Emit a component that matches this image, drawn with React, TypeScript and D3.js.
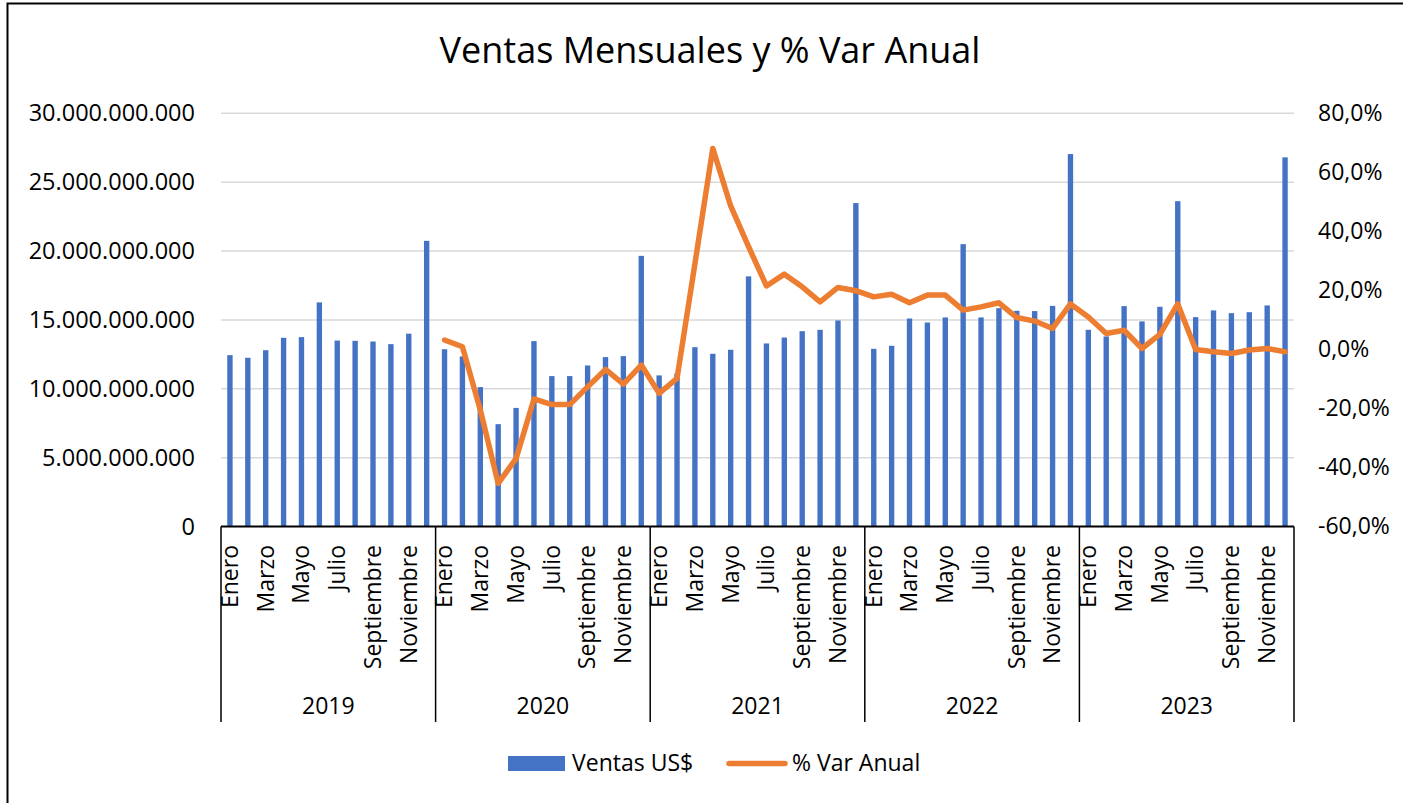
import React, { useEffect, useRef } from "react";
import * as d3 from "d3";

const years = ["2019", "2020", "2021", "2022", "2023"];
const months = [
  "Enero", "Febrero", "Marzo", "Abril", "Mayo", "Junio",
  "Julio", "Agosto", "Septiembre", "Octubre", "Noviembre", "Diciembre"
];

// Ventas US$ en miles de millones, por mes
const ventas2019 = [12.44, 12.25, 12.8, 13.7, 13.75, 16.27, 13.5, 13.48, 13.43, 13.24, 14.0, 20.74];
const ventas2020 = [12.87, 12.35, 10.12, 7.43, 8.61, 13.46, 10.92, 10.92, 11.69, 12.3, 12.37, 19.65];
const ventas2021 = [10.97, 11.1, 13.02, 12.54, 12.83, 18.16, 13.29, 13.72, 14.18, 14.28, 14.96, 23.48];
const ventas2022 = [12.9, 13.12, 15.1, 14.81, 15.18, 20.5, 15.18, 15.85, 15.66, 15.64, 16.02, 27.04];
const ventas2023 = [14.28, 13.8, 16.0, 14.89, 15.95, 23.62, 15.2, 15.69, 15.49, 15.56, 16.05, 26.8];

// % Var Anual (2019 sin dato)
const var2019 = [null, null, null, null, null, null, null, null, null, null, null, null];
const var2020 = [3.2, 0.9, -20.5, -45.4, -37, -16.8, -18.7, -18.7, -12.7, -6.8, -11.8, -5.3];
const var2021 = [-14.9, -9.8, 29, 68.1, 48.6, 34.8, 21.5, 25.5, 21.2, 16.1, 21, 19.9];
const var2022 = [17.8, 18.7, 15.8, 18.4, 18.4, 13.3, 14.4, 15.8, 10.8, 9.6, 7.1, 15.4];
const var2023 = [11.0, 5.4, 6.5, 0.3, 5.1, 15.4, 0, -0.8, -1.4, -0.2, 0.3, -0.8];

const leftTicks = [0, 5e9, 10e9, 15e9, 20e9, 25e9, 30e9];
const rightTicks = [-60, -40, -20, 0, 20, 40, 60, 80];

const ventasByYear = [ventas2019, ventas2020, ventas2021, ventas2022, ventas2023];
const varByYear = [var2019, var2020, var2021, var2022, var2023];

type Row = { key: string; year: string; month: string; mi: number; ventas: number; pct: number | null };

const rows: Row[] = years.flatMap((year, yi) =>
  months.map((month, mi) => ({
    key: `${year}-${mi}`,
    year,
    month,
    mi,
    ventas: ventasByYear[yi][mi] * 1e9,
    pct: varByYear[yi][mi]
  }))
);

const W = 1403;
const H = 803;
const BLUE = "#4472C4";
const ORANGE = "#ED7D31";
const FONT = "'Open Sans', 'Noto Sans', sans-serif";

const App = () => {
  const ref = useRef<SVGSVGElement | null>(null);

  useEffect(() => {
    const svg = d3.select(ref.current);
    svg.selectAll("*").remove();

    const left = 221, right = 1294, top = 113.3, bottom = 526.5;

    const x = d3.scaleBand<string>()
      .domain(rows.map(d => d.key))
      .range([left, right])
      .paddingInner(0.7)
      .paddingOuter(0.35);
    const step = x.step();

    const yL = d3.scaleLinear().domain([0, 30e9]).range([bottom, top]);
    const yR = d3.scaleLinear().domain([-60, 80]).range([bottom, top]);

    const loc = d3.formatLocale({
      decimal: ",", thousands: ".", grouping: [3], currency: ["", ""], minus: "-"
    });
    const fmtL = loc.format(",.0f");
    const fmtR = loc.format(".1%");

    svg.append("rect").attr("width", W).attr("height", H).attr("fill", "#fff");
    svg.append("rect")
      .attr("x", 7.5).attr("y", 3.5).attr("width", W).attr("height", H)
      .attr("fill", "none").attr("stroke", "#000").attr("stroke-width", 2);

    // title
    svg.append("text")
      .attr("x", 710).attr("y", 63)
      .attr("text-anchor", "middle")
      .style("font-size", "36px")
      .text("Ventas Mensuales y % Var Anual");

    // gridlines
    svg.append("g")
      .selectAll("line")
      .data(leftTicks.filter(t => t > 0))
      .join("line")
      .attr("x1", left).attr("x2", right)
      .attr("y1", d => yL(d)).attr("y2", d => yL(d))
      .attr("stroke", "#d9d9d9").attr("stroke-width", 1.5);

    // left axis
    const gL = svg.append("g")
      .attr("transform", `translate(${left},0)`)
      .call(d3.axisLeft(yL).tickValues(leftTicks).tickSize(0).tickPadding(26).tickFormat(d => fmtL(d as number)));
    gL.select(".domain").remove();
    gL.selectAll("text").style("font-size", "23.5px").style("font-family", FONT).attr("fill", "#000");

    // right axis
    const gR = svg.append("g")
      .attr("transform", `translate(${right},0)`)
      .call(d3.axisRight(yR).tickValues(rightTicks).tickSize(0).tickPadding(24).tickFormat(d => fmtR((d as number) / 100)));
    gR.select(".domain").remove();
    gR.selectAll("text").style("font-size", "23px").style("font-family", FONT).attr("fill", "#000");

    // bars
    svg.append("g")
      .selectAll("rect")
      .data(rows)
      .join("rect")
      .attr("x", d => x(d.key)!)
      .attr("width", x.bandwidth())
      .attr("y", d => yL(d.ventas))
      .attr("height", d => yL(0) - yL(d.ventas))
      .attr("fill", BLUE);

    // x axis line and year separators
    svg.append("line")
      .attr("x1", left).attr("x2", right)
      .attr("y1", bottom).attr("y2", bottom)
      .attr("stroke", "#000").attr("stroke-width", 2);

    const sepY2 = 722;
    svg.append("g")
      .selectAll("line")
      .data(d3.range(years.length + 1))
      .join("line")
      .attr("x1", i => left + i * 12 * step)
      .attr("x2", i => left + i * 12 * step)
      .attr("y1", bottom).attr("y2", sepY2)
      .attr("stroke", "#000").attr("stroke-width", 1.5);

    // month labels (every other month)
    svg.append("g")
      .selectAll("text")
      .data(rows.filter(d => d.mi % 2 === 0))
      .join("text")
      .attr("transform", d => `translate(${x(d.key)! + x.bandwidth() / 2},545) rotate(-90)`)
      .attr("dy", "0.34em")
      .attr("text-anchor", "end")
      .style("font-size", "23px")
      .text(d => d.month);

    // year labels
    svg.append("g")
      .selectAll("text")
      .data(years)
      .join("text")
      .attr("x", (d, i) => left + (i + 0.5) * 12 * step)
      .attr("y", 714)
      .attr("text-anchor", "middle")
      .style("font-size", "23px")
      .text(d => d);

    // line
    const line = d3.line<Row>()
      .defined(d => d.pct !== null)
      .x(d => x(d.key)! + x.bandwidth() / 2)
      .y(d => yR(d.pct as number));

    svg.append("path")
      .datum(rows)
      .attr("d", line)
      .attr("fill", "none")
      .attr("stroke", ORANGE)
      .attr("stroke-width", 5.5)
      .attr("stroke-linejoin", "round")
      .attr("stroke-linecap", "round");

    // legend
    const lg = svg.append("g").style("font-size", "23px");
    lg.append("rect")
      .attr("x", 508).attr("y", 756).attr("width", 57).attr("height", 15)
      .attr("fill", BLUE);
    lg.append("text").attr("x", 572).attr("y", 763).attr("dy", "0.35em").text("Ventas US$");
    lg.append("line")
      .attr("x1", 729).attr("x2", 785).attr("y1", 763.5).attr("y2", 763.5)
      .attr("stroke", ORANGE).attr("stroke-width", 5.5).attr("stroke-linecap", "round");
    lg.append("text").attr("x", 792).attr("y", 763).attr("dy", "0.35em").text("% Var Anual");
  }, []);

  return (
    <div style={{ position: "absolute", left: 0, top: 0 }}>
      <svg
        ref={ref}
        width={W}
        height={H}
        style={{ display: "block", fontFamily: FONT, fill: "#000" }}
      />
    </div>
  );
};

export default App;
